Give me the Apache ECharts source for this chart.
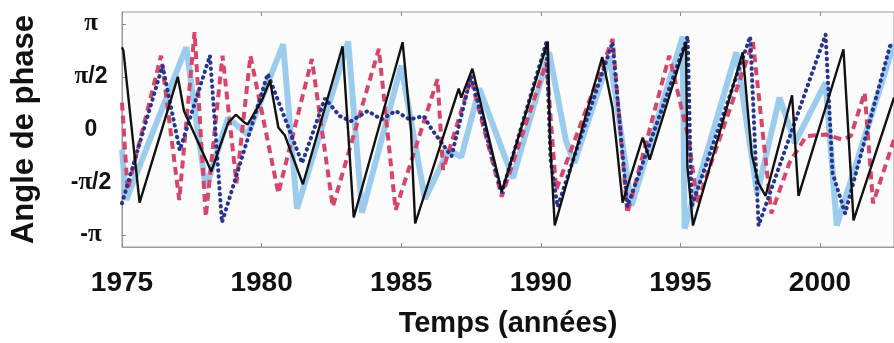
<!DOCTYPE html>
<html>
<head>
<meta charset="utf-8">
<script src="https://cdn.jsdelivr.net/npm/echarts@6/dist/echarts.min.js"></script>
<style>
  html, body { margin: 0; padding: 0; background: #fff; }
  #chart { width: 894px; height: 343px; }
</style>
</head>
<body>
<div id="chart"></div>
<script type="text/javascript">
// x ticks (years) and y ticks (phase)
var yearTicks = [1975, 1980, 1985, 1990, 1995, 2000];
var phaseTicks = [-Math.PI, -Math.PI / 2, 0, Math.PI / 2, Math.PI];
var phaseNames = ['-{p|π}', '-{p|π}/2', '0', '{p|π}/2', '{p|π}'];

// series: [year, phase]
var lightBlue = [
  [1975.0, -0.6], [1975.15, -2.1], [1977.3, 2.45], [1978.0, -1.75], [1978.8, 0.35],
  [1979.5, -0.15], [1980.77, 2.54], [1981.27, -2.36], [1983.1, 2.62], [1983.6, -2.48],
  [1985.0, 1.9], [1985.85, -2.07], [1986.7, -0.6], [1987.15, -0.82], [1987.8, 1.22],
  [1989.0, -1.45], [1990.3, 2.3], [1990.9, -0.33], [1991.2, -1.0], [1992.47, 2.19],
  [1993.25, -2.27], [1995.08, 2.77], [1995.15, -2.95], [1997.0, 2.3], [1997.75, -1.9],
  [1998.55, 0.95], [1999.1, -0.4], [2000.2, 1.4], [2000.6, -2.86], [2002.65, 2.55]
];
var redDash = [
  [1975.0, 0.8], [1975.2, -1.8], [1976.4, 2.2], [1977.05, -2.1], [1977.6, 2.9],
  [1978.0, -2.6], [1978.6, 2.2], [1979.1, -1.6], [1979.6, 2.2], [1980.6, -1.9],
  [1981.8, 2.1], [1982.55, -2.3], [1984.2, 2.4], [1984.8, -2.4], [1986.3, 1.5],
  [1986.5, -1.2], [1987.5, 1.5], [1988.6, -2.0], [1990.2, 2.0], [1990.55, -1.8],
  [1992.57, 2.7], [1993.1, -2.5], [1994.6, 2.2], [1995.3, -0.3], [1995.6, -2.2],
  [1997.6, 2.6], [1998.26, -2.5], [1998.9, -1.0], [1999.5, -0.2], [2000.2, -0.15],
  [2000.8, -0.3], [2001.1, -0.2], [2001.6, 1.1], [2001.9, -2.2], [2002.65, -0.3]
];
var darkBlueDot = [
  [1975.0, -2.2], [1976.45, 1.9], [1977.07, -0.62], [1978.15, 2.2], [1978.3, 0.5],
  [1978.58, -2.77], [1980.22, 1.66], [1981.45, -1.0], [1982.27, 0.93], [1982.8, 0.4],
  [1983.2, 0.25], [1983.8, 0.55], [1984.3, 0.3], [1984.8, 0.55], [1985.3, 0.3],
  [1985.8, 0.4], [1986.1, 0.0], [1986.8, -0.8], [1987.5, 1.6], [1988.6, -1.9],
  [1990.2, 2.6], [1990.35, -0.9], [1990.6, -2.3], [1992.57, 2.6], [1992.75, 0.9],
  [1993.1, -2.3], [1995.26, 2.77], [1995.4, -2.3], [1997.5, 2.77], [1997.8, -2.86],
  [2000.2, 2.83], [2000.45, -1.3], [2000.9, -2.5], [2002.5, 2.48], [2002.65, 2.6]
];
var blackLine = [
  [1975.0, 2.45], [1975.05, 2.35], [1975.63, -2.18], [1977.0, 1.57], [1977.22, 0.55],
  [1978.2, -1.25], [1978.8, 0.2], [1979.08, 0.44], [1979.4, 0.2], [1979.5, 0.15],
  [1980.0, 0.85], [1980.3, 1.46], [1980.6, 0.06], [1980.83, -0.17], [1981.48, -1.63],
  [1982.9, 2.48], [1983.3, -2.62], [1985.05, 2.6], [1985.35, 0.0], [1985.4, -1.0],
  [1985.5, -2.8], [1987.06, 1.22], [1987.15, 0.95], [1987.55, 1.81], [1988.6, -1.85],
  [1990.25, 2.62], [1990.33, -0.33], [1990.5, -2.86], [1992.2, 2.16], [1992.57, 0.64],
  [1992.7, -0.33], [1992.93, -2.18], [1993.18, -1.49], [1993.65, -0.24], [1993.9, -0.9],
  [1995.2, 2.6], [1995.25, -1.1], [1995.45, -2.86], [1997.23, 2.3], [1997.55, -0.73],
  [1997.8, -1.6], [1998.05, -1.98], [1999.0, 1.02], [1999.23, -1.98], [2000.84, 2.39],
  [2001.2, -2.71], [2002.65, 0.95]
];

var myChart = echarts.init(document.getElementById('chart'));

var labelFont = { fontFamily: 'Liberation Sans', fontWeight: 'bold', color: '#111' };

var option = {
  backgroundColor: '#fff',
  animation: false,
  grid: {
    left: 122, right: -2, top: 12, bottom: 91,
    show: true, backgroundColor: '#fbfbfb', borderColor: '#9a9a9a', borderWidth: 1
  },
  xAxis: [{
    type: 'value', min: 1975, max: 2002.65, interval: 5,
    name: 'Temps (années)', nameLocation: 'middle', nameGap: 62,
    nameTextStyle: { fontFamily: 'Liberation Sans', fontWeight: 'bold', fontSize: 29, color: '#111' },
    axisLine: { show: true, onZero: false, lineStyle: { color: '#9a9a9a', width: 1 } },
    axisTick: { show: true, inside: true, length: 4, customValues: yearTicks, lineStyle: { color: '#888' } },
    axisLabel: Object.assign({
      fontSize: 28, margin: 22, customValues: yearTicks,
      formatter: function (v) { return String(v); }
    }, labelFont),
    splitLine: { show: false }
  }, {
    type: 'value', position: 'top', min: 1975, max: 2002.65, interval: 5,
    axisLine: { show: false, onZero: false },
    axisTick: { show: true, inside: true, length: 4, customValues: yearTicks, lineStyle: { color: '#888' } },
    axisLabel: { show: false },
    splitLine: { show: false }
  }],
  yAxis: {
    type: 'value', min: -3.5, max: 3.5,
    name: 'Angle de phase', nameLocation: 'middle', nameGap: 82, nameRotate: 90,
    nameTextStyle: { fontFamily: 'Liberation Sans', fontWeight: 'bold', fontSize: 31, color: '#111' },
    axisLine: { show: true, onZero: false, lineStyle: { color: '#9a9a9a', width: 1 } },
    axisTick: { show: true, inside: true, length: 4, customValues: phaseTicks, lineStyle: { color: '#888' } },
    axisLabel: Object.assign({
      fontSize: 23, margin: 31, align: 'center', customValues: phaseTicks,
      formatter: function (v) {
        for (var i = 0; i < phaseTicks.length; i++) {
          if (Math.abs(v - phaseTicks[i]) < 1e-6) return phaseNames[i];
        }
        return '';
      },
      rich: { p: { fontFamily: 'Liberation Serif', fontWeight: 'bold', fontSize: 25, color: '#111' } }
    }, labelFont),
    splitLine: { show: false }
  },
  series: [
    {
      name: 'bleu clair', type: 'line', data: lightBlue, showSymbol: false, z: 1,
      lineStyle: { color: '#97c9ec', width: 6, opacity: 0.95 }
    },
    {
      name: 'rouge', type: 'line', data: redDash, showSymbol: false, z: 2,
      lineStyle: { color: '#d6456a', width: 4, type: [8, 5] }
    },
    {
      name: 'bleu foncé', type: 'line', data: darkBlueDot, showSymbol: false, z: 3,
      lineStyle: { color: '#27358c', width: 4, type: [0.5, 5.5], cap: 'round' }
    },
    {
      name: 'noir', type: 'line', data: blackLine, showSymbol: false, z: 4,
      lineStyle: { color: '#111', width: 2.4 }
    }
  ]
};

myChart.setOption(option);
</script>
</body>
</html>
